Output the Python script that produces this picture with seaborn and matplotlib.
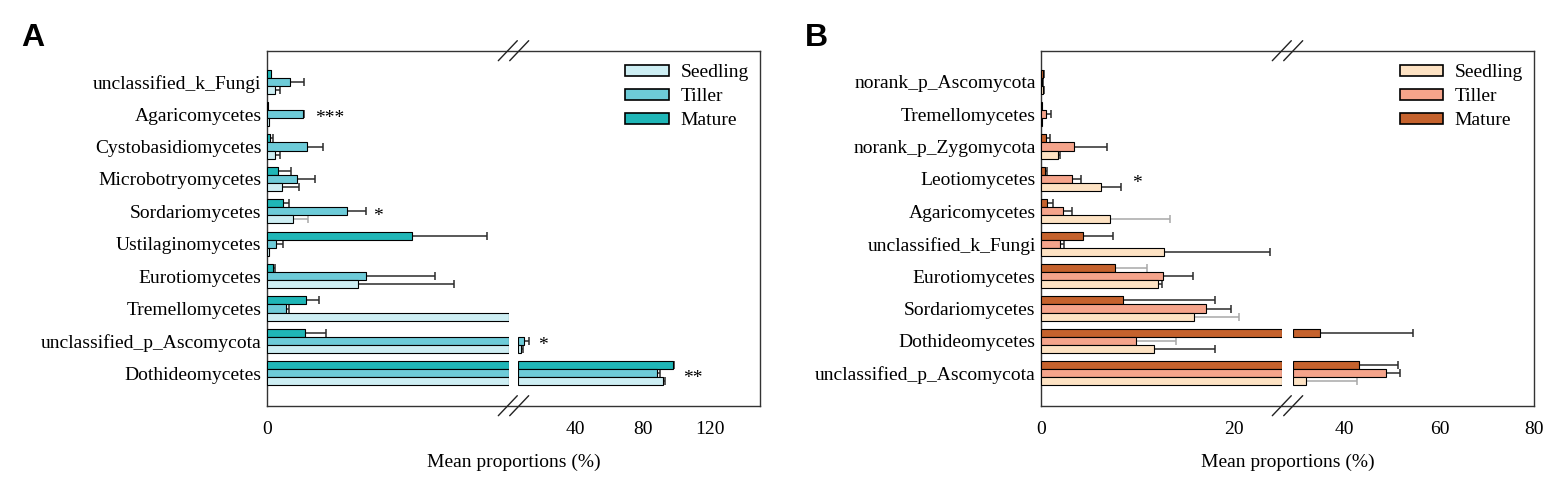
import numpy as np
import pandas as pd
import matplotlib.pyplot as plt
from matplotlib.lines import Line2D
from matplotlib.patches import Patch
import seaborn as sns

# ---------- data (% mean proportion and SD) ----------
stages = ["Seedling", "Tiller", "Mature"]
draw_order = ["Mature", "Tiller", "Seedling"]  # top -> bottom inside each row

a_taxa = ["unclassified_k_Fungi", "Agaricomycetes", "Cystobasidiomycetes",
          "Microbotryomycetes", "Sordariomycetes", "Ustilaginomycetes",
          "Eurotiomycetes", "Tremellomycetes", "unclassified_p_Ascomycota",
          "Dothideomycetes"]
a_seedling = [0.21, 0.05, 0.19, 0.36, 0.64, 0.05, 2.27, 6.0, 7.9, 92.1]
a_seedling_sd = [0.11, 0.01, 0.13, 0.44, 0.38, 0.01, 2.37, 0.0, 0.8, 1.5]
a_tiller = [0.58, 0.90, 1.00, 0.74, 1.99, 0.22, 2.45, 0.47, 9.6, 88.5]
a_tiller_sd = [0.34, 0.03, 0.38, 0.45, 0.47, 0.18, 1.72, 0.07, 2.9, 2.2]
a_mature = [0.09, 0.02, 0.07, 0.28, 0.40, 3.59, 0.16, 0.96, 0.95, 98.0]
a_mature_sd = [0.01, 0.01, 0.09, 0.32, 0.15, 1.86, 0.05, 0.32, 0.52, 0.8]
a_stars = [("Agaricomycetes", 1.56, "***"), ("Sordariomycetes", 2.75, "*"),
           ("unclassified_p_Ascomycota", 20.5, "*"), ("Dothideomycetes", 110, "**")]
a_light = [("Sordariomycetes", "Seedling")]

b_taxa = ["norank_p_Ascomycota", "Tremellomycetes", "norank_p_Zygomycota",
          "Leotiomycetes", "Agaricomycetes", "unclassified_k_Fungi",
          "Eurotiomycetes", "Sordariomycetes", "Dothideomycetes",
          "unclassified_p_Ascomycota"]
b_seedling = [0.2, 0.1, 1.73, 6.15, 7.15, 12.75, 12.09, 15.85, 11.74, 31.8]
b_seedling_sd = [0.05, 0.0, 0.2, 2.07, 6.22, 10.95, 0.45, 4.7, 6.33, 10.8]
b_tiller = [0.1, 0.52, 3.39, 3.21, 2.21, 1.97, 12.64, 17.06, 9.84, 48.6]
b_tiller_sd = [0.05, 0.52, 3.45, 0.87, 0.93, 0.34, 3.08, 2.63, 4.15, 3.1]
b_mature = [0.2, 0.05, 0.45, 0.41, 0.62, 4.32, 7.67, 8.50, 34.8, 43.0]
b_mature_sd = [0.05, 0.0, 0.48, 0.18, 0.62, 3.14, 3.25, 9.57, 19.6, 8.2]
b_stars = [("Leotiomycetes", 9.9, "*")]
b_light = [("Agaricomycetes", "Seedling"), ("Sordariomycetes", "Seedling"),
           ("unclassified_p_Ascomycota", "Seedling"), ("Dothideomycetes", "Tiller"),
           ("Eurotiomycetes", "Mature")]

pal_a = {"Seedling": "#cdeef3", "Tiller": "#6dcbd8", "Mature": "#1fb6b7"}
pal_b = {"Seedling": "#fde2c3", "Tiller": "#f5a48b", "Mature": "#c5622d"}


def long_table(taxa, vals, sds):
    rows = []
    for stage in stages:
        for t, v, e in zip(taxa, vals[stage], sds[stage]):
            rows.append({"taxon": t, "stage": stage, "value": v, "err": e})
    return pd.DataFrame(rows)


df_a = long_table(a_taxa, {"Seedling": a_seedling, "Tiller": a_tiller, "Mature": a_mature},
                  {"Seedling": a_seedling_sd, "Tiller": a_tiller_sd, "Mature": a_mature_sd})
df_b = long_table(b_taxa, {"Seedling": b_seedling, "Tiller": b_tiller, "Mature": b_mature},
                  {"Seedling": b_seedling_sd, "Tiller": b_tiller_sd, "Mature": b_mature_sd})

# ---------- style ----------
sns.set_style("white")
plt.rcParams["font.family"] = ["Liberation Serif", "DejaVu Serif"]
plt.rcParams["text.color"] = "black"
plt.rcParams["xtick.labelcolor"] = "black"
plt.rcParams["ytick.labelcolor"] = "black"
FS = 14
LINE = "#333333"

W, H = 1562, 487
AX_TOP, AX_BOT = 50.7, 405.7


def fig_rect(x0, x1):
    return [x0 / W, 1 - AX_BOT / H, (x1 - x0) / W, (AX_BOT - AX_TOP) / H]


def draw_panel(fig, df, taxa, pal, edges, left_lim, right_lim, left_ticks,
               right_ticks, stars, light, letter, letter_x):
    x0, b0, b1, x1 = edges
    frame = fig.add_axes(fig_rect(x0, x1), zorder=0)
    frame.set_facecolor("none")
    frame.set_xticks([])
    frame.set_yticks([])
    for s in frame.spines.values():
        s.set_linewidth(1.0)
        s.set_color(LINE)

    axl = fig.add_axes(fig_rect(x0, b0), zorder=1)
    axr = fig.add_axes(fig_rect(b1, x1), zorder=1)

    bar_kw = dict(y="taxon", hue="stage", order=taxa, hue_order=draw_order,
                  palette=pal, saturation=1, width=0.75, errorbar=None,
                  edgecolor="black", linewidth=0.8, legend=False)
    shown = df.assign(shown=np.minimum(df["value"], left_lim[1]))
    sns.barplot(data=shown, x="shown", ax=axl, **bar_kw)
    over = df[df["value"] > right_lim[0]]
    over = over.assign(over=over["value"] - right_lim[0])
    sns.barplot(data=over, x="over", left=right_lim[0], ax=axr, **bar_kw)

    # one-sided error bars
    ypos = {t: i for i, t in enumerate(taxa)}
    offs = {s: (k - 1) * 0.25 for k, s in enumerate(draw_order)}
    yy = df["taxon"].map(ypos) + df["stage"].map(offs)
    is_light = pd.Series([(t, s) in light for t, s in zip(df["taxon"], df["stage"])],
                         index=df.index)
    has_err = df["err"] > 0
    for ax in (axl, axr):
        for mask, col in ((~is_light & has_err, "#2b2b2b"), (is_light & has_err, "#a8a8a8")):
            d = df[mask]
            ax.errorbar(d["value"], yy[mask], xerr=[np.zeros(len(d)), d["err"]],
                        fmt="none", ecolor=col, elinewidth=1.1, capsize=3.2,
                        capthick=1.1, zorder=0.9)

    axl.set_xlim(*left_lim)
    axr.set_xlim(*right_lim)
    for ax in (axl, axr):
        ax.set_ylim(len(taxa), -0.957)
        ax.set_facecolor("none")
        for s in ax.spines.values():
            s.set_visible(False)
        ax.set_xlabel("")
        ax.set_ylabel("")
        ax.tick_params(axis="x", direction="in", length=4, width=1, color=LINE,
                       labelsize=FS, pad=11)
        ax.tick_params(axis="y", length=0, labelsize=FS, pad=4)
    axl.set_xticks(left_ticks)
    axr.set_xticks(right_ticks)
    axr.tick_params(axis="y", labelleft=False)

    for taxon, xs, mark in stars:
        ax = axl if xs <= left_lim[1] else axr
        ax.text(xs, ypos[taxon] + 0.15, mark, ha="center", va="center", fontsize=FS)

    handles = [Patch(facecolor=pal[s], edgecolor="black", linewidth=1.2, label=s)
               for s in stages]
    frame.legend(handles=handles, loc="upper left", bbox_to_anchor=(0.727, 0.962),
                 frameon=False, borderpad=0, borderaxespad=0, fontsize=FS,
                 handlelength=2.25, handleheight=0.5, handletextpad=0.58,
                 labelspacing=0.36)

    # break marks on top and bottom spines
    gc = (b0 + b1) / 2
    for ys in (AX_TOP, AX_BOT):
        for c in (gc - 5.7, gc + 5.7):
            fig.add_artist(Line2D([(c - 9.5) / W, (c + 9.5) / W],
                                  [1 - (ys + 10) / H, 1 - (ys - 10) / H],
                                  transform=fig.transFigure, color="#222222", lw=1.0))

    fig.text((x0 + x1) / 2 / W, 1 - 462 / H, "Mean proportions (%)",
             ha="center", va="center", fontsize=FS)
    fig.text(letter_x / W, 1 - 23.3 / H, letter, ha="left", va="top", color="black",
             fontsize=23, fontweight="bold", family=["Liberation Sans", "DejaVu Sans"])


fig = plt.figure(figsize=(W / 100, H / 100), dpi=100)
draw_panel(fig, df_a, a_taxa, pal_a, (267, 508.7, 518.3, 760), (0, 6), (6, 150),
           [0], [40, 80, 120], a_stars, a_light, "A", 21.7)
draw_panel(fig, df_b, b_taxa, pal_b, (1041.3, 1282.3, 1292.7, 1534.3), (0, 25), (29, 80),
           [0, 20], [40, 60, 80], b_stars, b_light, "B", 805)

fig.savefig("out.png", dpi=100)
